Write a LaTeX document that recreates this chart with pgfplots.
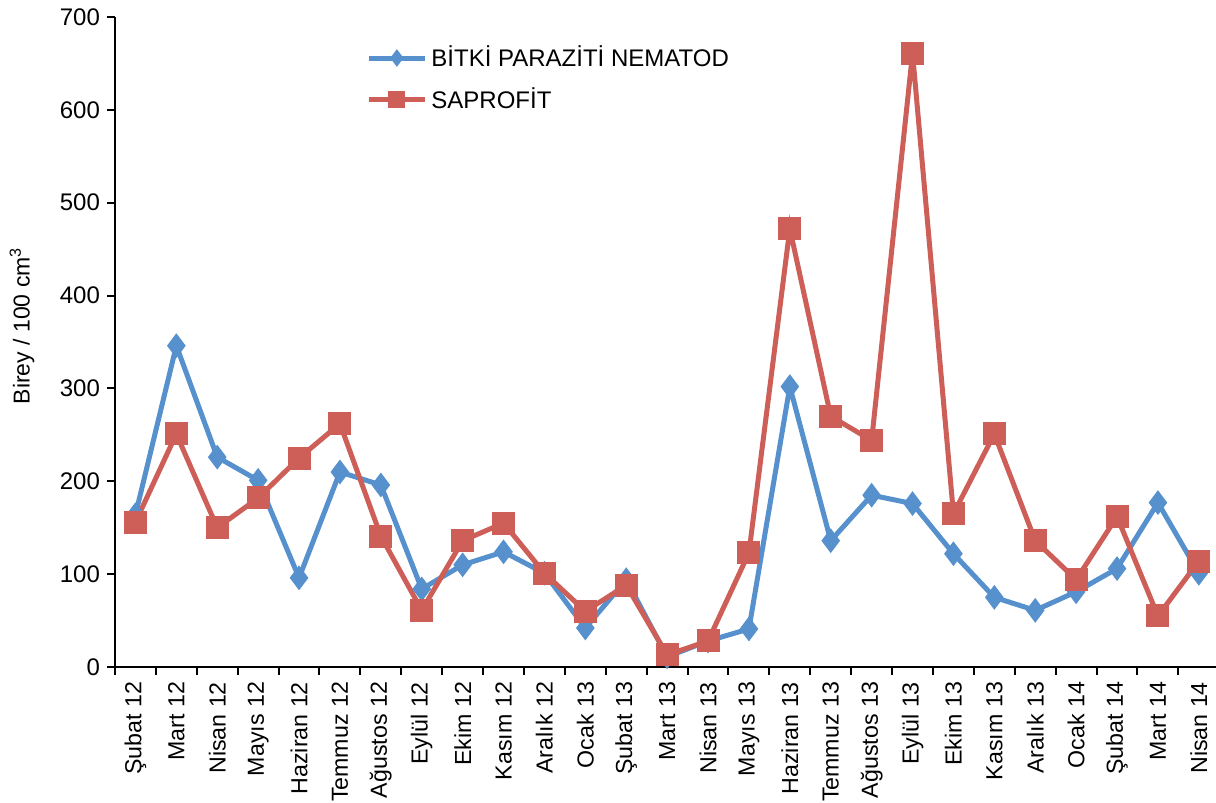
\documentclass[border=0pt]{standalone}
\usepackage{fontspec}
\setmainfont{Liberation Sans}
\usepackage{pgfplots}
\pgfplotsset{compat=1.18}
\definecolor{cblue}{RGB}{86,145,205}
\definecolor{cred}{RGB}{205,94,88}
\begin{document}
\begin{tikzpicture}[x=1pt,y=1pt]
\useasboundingbox (0,0) rectangle (608,401.5);
\begin{axis}[
  at={(57.5pt,68pt)}, anchor=south west,
  scale only axis, width=550.5pt, height=325pt,
  xmin=-0.5, xmax=26.42, ymin=0, ymax=700,
  axis x line=bottom, axis y line=left,
  axis line style={-, line width=1pt, black},
  ytick={0,100,...,700},
  xtick={0,...,26},
  xticklabels={Şubat 12,Mart 12,Nisan 12,Mayıs 12,Haziran 12,Temmuz 12,Ağustos 12,Eylül 12,Ekim 12,Kasım 12,Aralık 12,Ocak 13,Şubat 13,Mart 13,Nisan 13,Mayıs 13,Haziran 13,Temmuz 13,Ağustos 13,Eylül 13,Ekim 13,Kasım 13,Aralık 13,Ocak 14,Şubat 14,Mart 14,Nisan 14},
  minor xtick={-0.5,0.5,...,26.5},
  major x tick style={draw=none},
  tick align=outside,
  major tick length=4pt, minor tick length=4pt,
  tick style={line width=1pt, black},
  /pgf/number format/assume math mode=true,
  yticklabel style={font=\fontsize{12}{14}\selectfont},
  xticklabel style={rotate=90, anchor=east, font=\fontsize{11.6}{13.6}\selectfont},
  ylabel={Birey / 100 cm\textsuperscript{3}},
  ylabel style={font=\fontsize{11.5}{13.5}\selectfont, at={(rel axis cs:-0.0845,0.525)}, anchor=center},
  legend style={draw=none, fill=none, at={(0.228,0.962)}, anchor=north west,
    font=\fontsize{12}{14}\selectfont, row sep=5pt, inner sep=0pt},
  legend cell align=left,
  legend image code/.code={\draw[mark repeat=2,mark phase=2, mark size=4pt] plot coordinates {(0pt,0pt) (14pt,0pt) (28pt,0pt)};},
]
\addplot[cblue, line width=2.5pt, mark=diamond*, mark size=5.8pt, mark options={line width=0.5pt}] coordinates {
(0,164) (1,346) (2,226) (3,201) (4,96) (5,210) (6,196) (7,84) (8,110) (9,124) (10,101) (11,42) (12,94) (13,11) (14,28) (15,41) (16,302) (17,136) (18,185) (19,176) (20,122) (21,75) (22,61) (23,81) (24,106) (25,177) (26,101)};
\addlegendentry{BİTKİ PARAZİTİ NEMATOD}
\addplot[cred, line width=2.5pt, mark=square*, mark size=5.5pt, mark options={line width=0.5pt}] coordinates {
(0,156) (1,251) (2,150) (3,182) (4,225) (5,262) (6,141) (7,61) (8,136) (9,155) (10,101) (11,60) (12,88) (13,13) (14,28) (15,123) (16,472) (17,270) (18,244) (19,661) (20,165) (21,251) (22,136) (23,94) (24,162) (25,55) (26,114)};
\addlegendentry{SAPROFİT}
\end{axis}
\end{tikzpicture}
\end{document}
